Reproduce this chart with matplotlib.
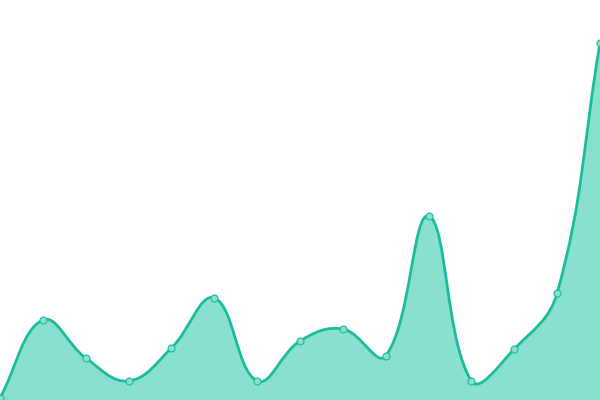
import numpy as np
import matplotlib
matplotlib.use("Agg")
import matplotlib.pyplot as plt
from matplotlib.path import Path
from matplotlib.patches import PathPatch

labels = list(range(15))
values = [2, 80, 42, 19, 52, 102, 19, 59, 71, 44, 184, 19, 51, 107, 357]

line_color = "#1abc9c"
fill_color = "#8ae0cf"
marker_face = "#8ae0cf"

W, H = 600, 400
ymax = 400
fig = plt.figure(figsize=(W / 100, H / 100), dpi=100)
ax = fig.add_axes([0, 0, 1, 1])
n = len(values)
ax.set_xlim(0, n - 1)
ax.set_ylim(0, ymax)
ax.axis("off")

# pixel coords for spline computation
sx = W / (n - 1)
sy = H / ymax
px = np.array(labels, dtype=float) * sx
py = np.array(values, dtype=float) * sy
t = 0.4
cps = []
for i in range(n):
    pv = (px[max(i - 1, 0)], py[max(i - 1, 0)])
    cu = (px[i], py[i])
    nx = (px[min(i + 1, n - 1)], py[min(i + 1, n - 1)])
    d01 = np.hypot(cu[0] - pv[0], cu[1] - pv[1])
    d12 = np.hypot(nx[0] - cu[0], nx[1] - cu[1])
    tot = d01 + d12
    s01 = d01 / tot if tot else 0
    s12 = d12 / tot if tot else 0
    fa, fb = t * s01, t * s12
    c1 = (cu[0] - fa * (nx[0] - pv[0]), cu[1] - fa * (nx[1] - pv[1]))
    c2 = (cu[0] + fb * (nx[0] - pv[0]), cu[1] + fb * (nx[1] - pv[1]))
    c1 = (min(max(c1[0], 0), W), min(max(c1[1], 0), H))
    c2 = (min(max(c2[0], 0), W), min(max(c2[1], 0), H))
    cps.append((c1, c2))

def d(p):
    return (p[0] / sx, p[1] / sy)

verts = [d((px[0], py[0]))]
codes = [Path.MOVETO]
for i in range(n - 1):
    verts += [d(cps[i][1]), d(cps[i + 1][0]), d((px[i + 1], py[i + 1]))]
    codes += [Path.CURVE4] * 3

line_path = Path(verts, codes)
fill_verts = verts + [(n - 1, 0), (0, 0), verts[0]]
fill_codes = codes + [Path.LINETO, Path.LINETO, Path.CLOSEPOLY]
ax.add_patch(PathPatch(Path(fill_verts, fill_codes), facecolor=fill_color, edgecolor="none"))
ax.add_patch(PathPatch(line_path, facecolor="none", edgecolor=line_color, lw=2.0))
ax.plot(labels, values, linestyle="none", marker="o", markersize=5,
        markerfacecolor=marker_face, markeredgecolor=line_color, markeredgewidth=0.8)

fig.savefig("out.png", dpi=100)
